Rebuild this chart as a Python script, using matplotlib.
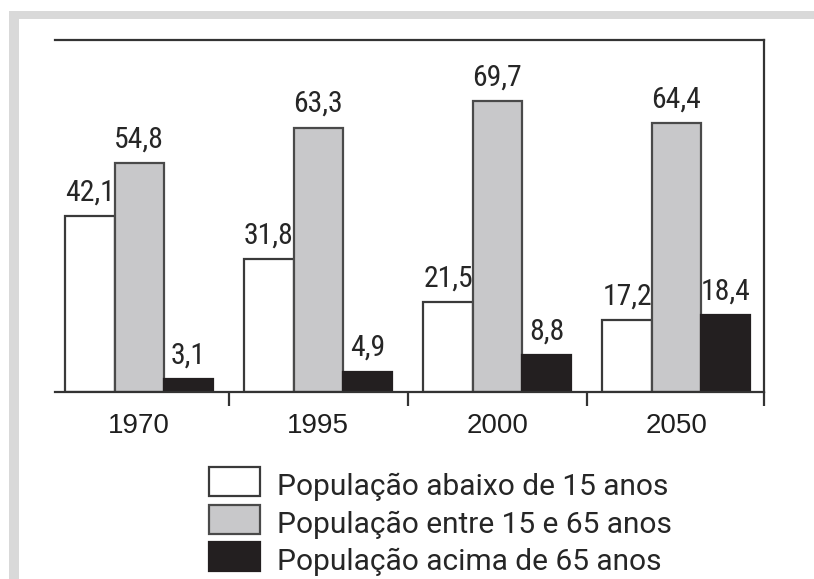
import matplotlib
matplotlib.use("Agg")
import matplotlib.pyplot as plt
from matplotlib.patches import Rectangle
from matplotlib import font_manager as fm
from matplotlib.textpath import TextPath
import numpy as np

# ---- data ----
years = ["1970", "1995", "2000", "2050"]
series_names = ["População abaixo de 15 anos",
                "População entre 15 e 65 anos",
                "População acima de 65 anos"]
below_15 = [42.1, 31.8, 21.5, 17.2]
between_15_65 = [54.8, 63.3, 69.7, 64.4]
above_65 = [3.1, 4.9, 8.8, 18.4]
value_labels = [["42,1", "31,8", "21,5", "17,2"],
                ["54,8", "63,3", "69,7", "64,4"],
                ["3,1", "4,9", "8,8", "18,4"]]

series = [below_15, between_15_65, above_65]
fills = ["#ffffff", "#c8c8ca", "#231f20"]
edges = ["#3a3a3a", "#4a4a4a", "#231f20"]

# ---- fonts ----
names = {f.name for f in fm.fontManager.ttflist}

def pick(cands, default="DejaVu Sans"):
    for c in cands:
        if c in names:
            return c
    return default

def ink(text, fam):
    ext = TextPath((0, 0), text, size=100,
                   prop=fm.FontProperties(family=fam)).get_extents()
    return ext.width, ext.height

# choose a condensed face whose proportions match the value labels
target_ratio = 45.0 / 21.7
narrow_cands = ["Liberation Sans Narrow", "Arial Narrow", "Roboto Condensed",
                "Archivo Narrow", "PT Sans Narrow", "Pragati Narrow",
                "IBM Plex Sans Condensed", "Fira Sans Condensed",
                "Barlow Semi Condensed", "Asap Condensed", "Encode Sans Condensed",
                "Sofia Sans Condensed", "Barlow Condensed", "Saira Condensed"]
narrow_font, narrow_h = None, None
best = None
for c in narrow_cands:
    if c not in names:
        continue
    try:
        w, _ = ink("54,8", c)
        _, h = ink("548", c)
    except Exception:
        continue
    r = w / h
    score = abs(r - target_ratio) / target_ratio
    if score < 0.07:
        narrow_font, narrow_h = c, h
        break
    if best is None or score < best[0]:
        best = (score, c, h)
if narrow_font is None:
    if best is not None:
        narrow_font, narrow_h = best[1], best[2]
    else:
        narrow_font = "DejaVu Sans"
        narrow_h = ink("548", narrow_font)[1]
value_fs = 21.7 / narrow_h * 100 * 72 / 100

main_font = pick(["Liberation Sans", "Arimo", "Arial"])
legend_font = pick(["Roboto", "Liberation Sans"])

W, H = 814, 579
fig = plt.figure(figsize=(W / 100, H / 100), dpi=100)

def fx(px):
    return px / W

def fy(py):
    return 1 - py / H

# gray frame strips
fig.add_artist(Rectangle((fx(9), 0), fx(10), fy(11), transform=fig.transFigure,
                         facecolor="#d9d9d9", edgecolor="none"))
fig.add_artist(Rectangle((fx(9), fy(19)), 1 - fx(9), fy(11) - fy(19),
                         transform=fig.transFigure, facecolor="#d9d9d9", edgecolor="none"))

ax = fig.add_axes([fx(55), fy(392), fx(764) - fx(55), fy(40) - fy(392)])

x = np.arange(len(years))
bw = 0.275
offsets = [-bw, 0, bw]
for k, vals in enumerate(series):
    bars = ax.bar(x + offsets[k], vals, width=bw, facecolor=fills[k],
                  edgecolor=edges[k], linewidth=1.6, zorder=2)
    for b, lab in zip(bars, value_labels[k]):
        ax.annotate(lab, (b.get_x() + b.get_width() / 2, b.get_height()),
                    xytext=(0, 11.5), textcoords="offset points",
                    ha="center", va="baseline", fontsize=value_fs,
                    color="#262626", family=narrow_font)

ax.set_xlim(-0.47, 3.49)
ax.set_ylim(0, 84.4)

for s in ["top", "right", "bottom"]:
    ax.spines[s].set_color("#333333")
    ax.spines[s].set_linewidth(1.6)
ax.spines["left"].set_visible(False)

ax.set_yticks([])
ax.set_xticks(x)
ax.set_xticklabels(years, fontsize=20, color="#1f1f1f", family=main_font)
ax.tick_params(axis="x", which="major", length=0, pad=15)
ax.set_xticks([0.5, 1.5, 2.5, 3.49], minor=True)
ax.tick_params(axis="x", which="minor", length=10, width=1.6, color="#333333",
               direction="out")

# legend drawn below
rows_top = [467, 505, 542]
baselines = [495, 533, 570]
for k in range(3):
    fig.add_artist(Rectangle((fx(209), fy(rows_top[k] + 29)), fx(51),
                             fy(rows_top[k]) - fy(rows_top[k] + 29),
                             transform=fig.transFigure, facecolor=fills[k],
                             edgecolor=edges[k], linewidth=1.6))
    fig.text(fx(277), fy(baselines[k]), series_names[k], fontsize=21.5,
             family=legend_font, color="#262626", va="baseline", ha="left")

fig.savefig("out.png", dpi=100)
